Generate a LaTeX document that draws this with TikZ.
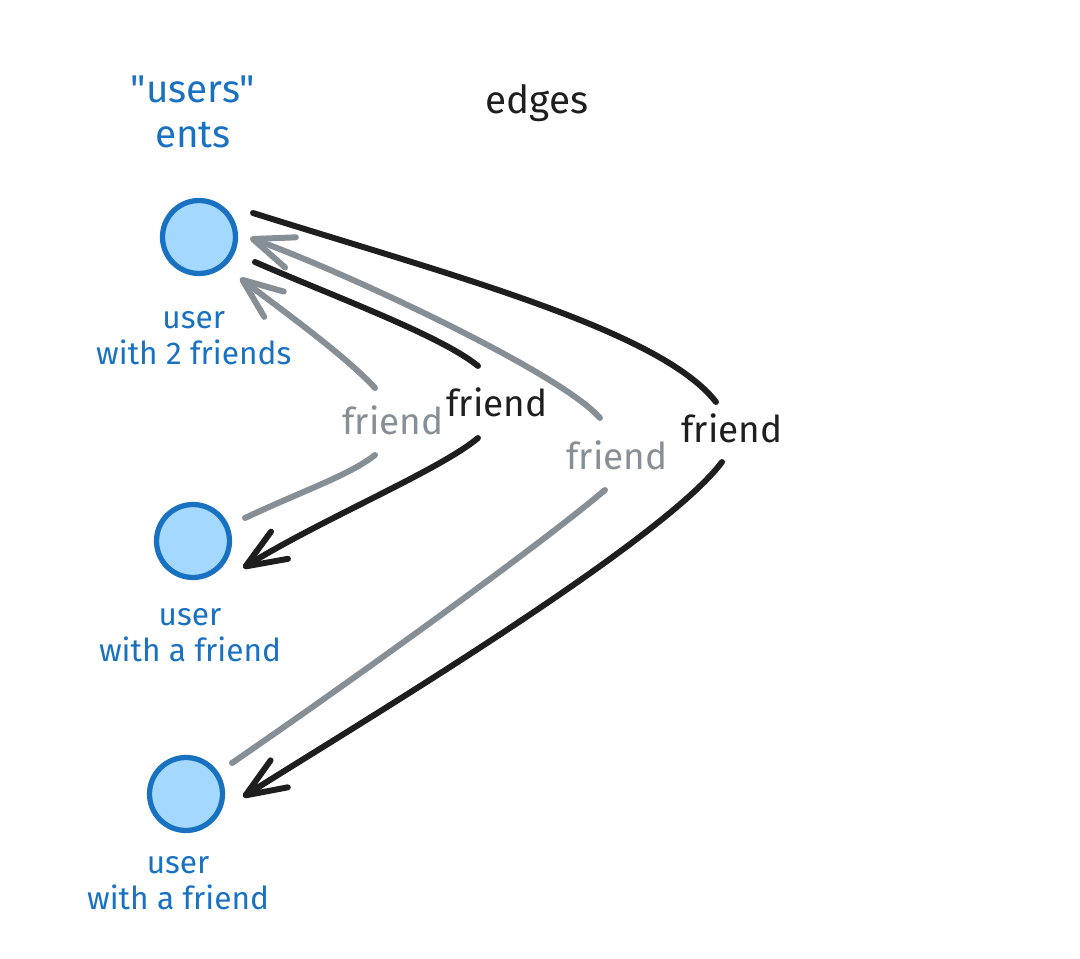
\documentclass[tikz,border=0pt]{standalone}
\usepackage{fontspec}
\setmainfont{Fira Sans}
\newfontfamily\titlefont{Fira Sans}[Ligatures=TeXOff]
\usetikzlibrary{arrows.meta,positioning}
\definecolor{entblue}{HTML}{1971C2}
\definecolor{entfill}{HTML}{A5D8FF}
\definecolor{edgegray}{HTML}{868E96}
\definecolor{edgeblack}{HTML}{1E1E1E}

\begin{document}
\begin{tikzpicture}[
    x=0.02cm, y=-0.02cm,
    % les ents (cercles bleus) et leurs légendes
    ent/.style={circle, draw=entblue, fill=entfill, line width=3pt,
        minimum size=1.46cm, inner sep=0pt},
    entlabel/.style={text=entblue, align=center, inner sep=0pt,
        font=\fontsize{18}{20.5}\selectfont},
    % les arêtes "friend"
    edgelabel/.style={inner sep=0pt, font=\fontsize{21}{24}\selectfont},
    friendblack/.style={draw=edgeblack, line width=3.4pt, line cap=round,
        -{Straight Barb[length=8mm,width=6.4mm,round]}},
    friendgray/.style={draw=edgegray, line width=3.4pt, line cap=round,
        -{Straight Barb[length=8mm,width=6.4mm,round]}}
]
\useasboundingbox (0,0) rectangle (1080,959);

% Titres
\node[text=entblue, align=center, font=\titlefont\fontsize{22}{26}\selectfont] (title) at (193,112) {"users"\\ents};
\node[text=edgeblack, font=\fontsize{22}{26}\selectfont] (edges) at (537,103) {edges};

% Ents
\node[ent] (u1) at (199,237) {};
\node[ent] (u2) at (193,541) {};
\node[ent] (u3) at (186,794) {};
\node[entlabel, below=7mm of u1, xshift=-3pt] (l1) {user\\with 2 friends};
\node[entlabel, below=5.6mm of u2, xshift=-1.7pt] (l2) {user\\with a friend};
\node[entlabel, below=4.6mm of u3, xshift=-4.5pt] (l3) {user\\with a friend};

% Étiquettes des arêtes
\node[edgelabel, text=edgeblack] (fa) at (497,402) {friend};
\node[edgelabel, text=edgegray] (fb) at (393,420) {friend};
\node[edgelabel, text=edgegray] (fc) at (617,455) {friend};
\node[edgelabel, text=edgeblack] (fd) at (732,428) {friend};

% Arêtes
\draw[friendgray] ([shift={(52,-23)}]u2.center) .. controls (300,492) and (350,475) .. ([shift={(-18,35)}]fb.center)
    ([shift={(-18,-32)}]fb.center) .. controls (345,355) and (275,305) .. ([shift={(41,41)}]u1.center);
\draw[friendgray] ([shift={(46,-31)}]u3.center) .. controls (360,675) and (540,545) .. ([shift={(-12,35)}]fc.center)
    ([shift={(-17,-37)}]fc.center) .. controls (560,372) and (340,270) .. ([shift={(51,1)}]u1.center);
\draw[friendblack] ([shift={(56,25)}]u1.center) .. controls (330,295) and (440,335) .. ([shift={(-19,-36)}]fa.center)
    ([shift={(-19,36)}]fa.center) .. controls (440,470) and (320,520) .. ([shift={(50,27)}]u2.center);
\draw[friendblack] ([shift={(54,-24)}]u1.center) .. controls (450,275) and (660,330) .. ([shift={(-16,-26)}]fd.center)
    ([shift={(-10,34)}]fd.center) .. controls (660,545) and (340,735) .. ([shift={(57,3)}]u3.center);
\end{tikzpicture}
\end{document}
